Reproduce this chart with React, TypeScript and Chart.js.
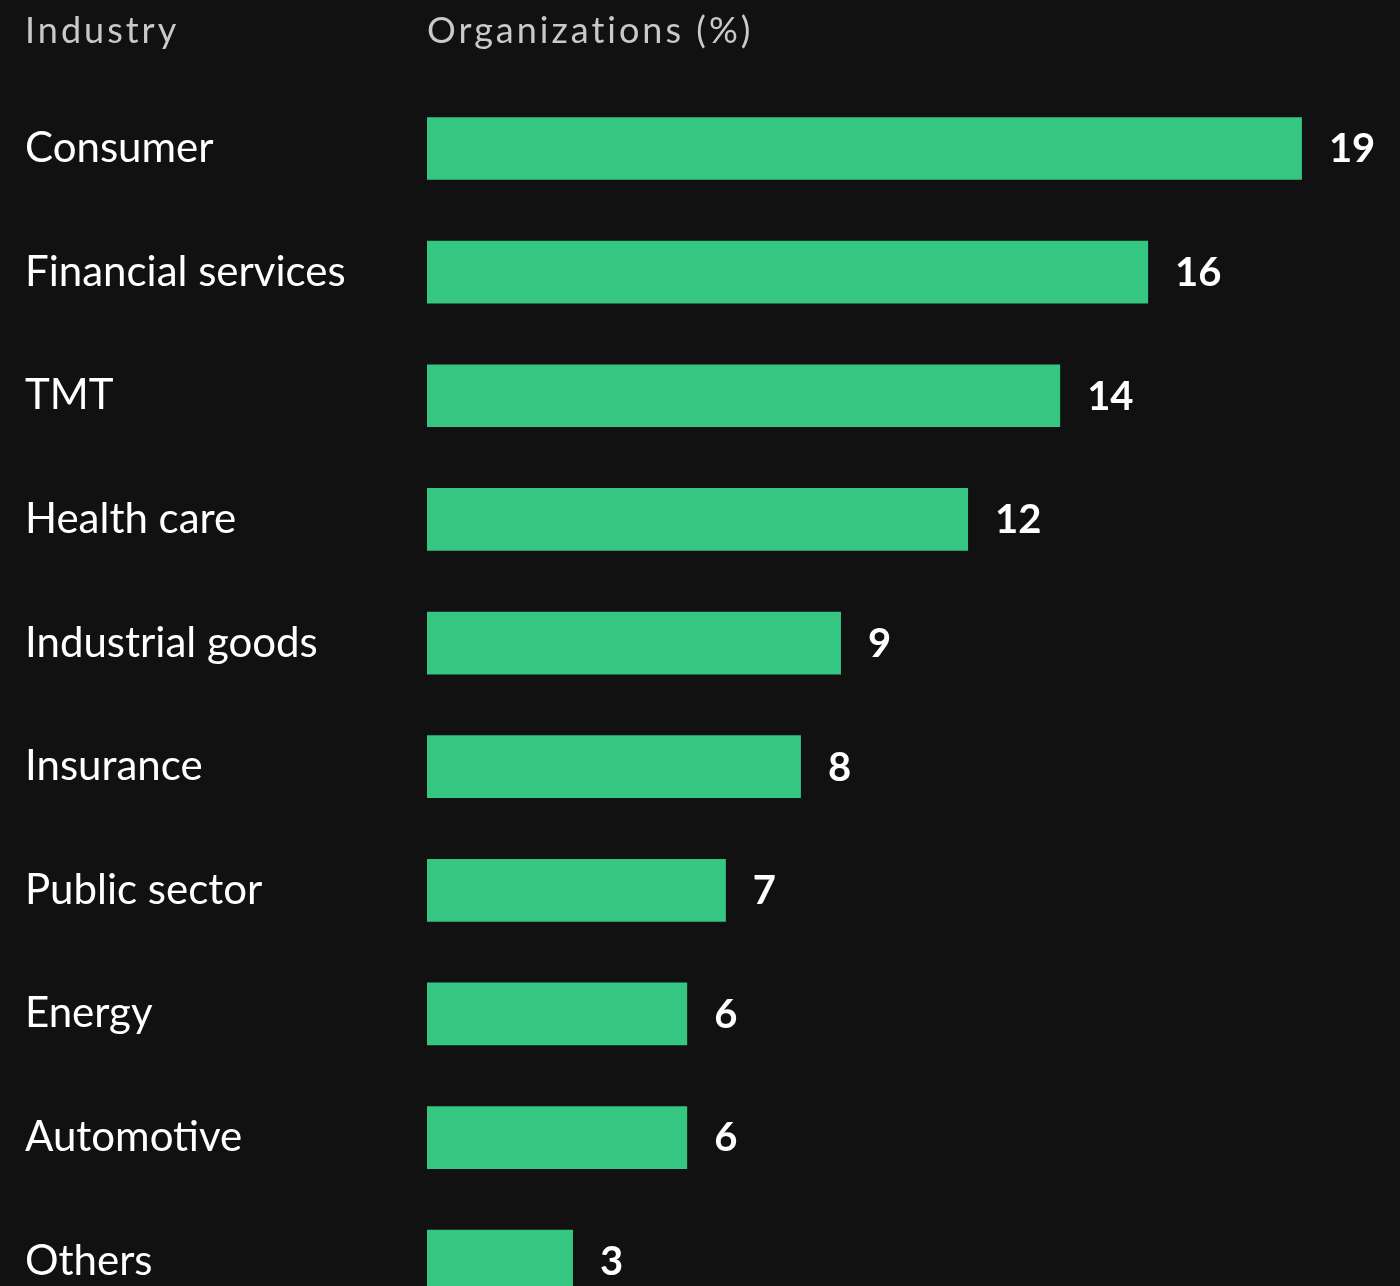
import React, { useEffect, useRef } from "react";
import { Chart, registerables } from "chart.js";

Chart.register(...registerables);

const categories = [
  "Consumer",
  "Financial services",
  "TMT",
  "Health care",
  "Industrial goods",
  "Insurance",
  "Public sector",
  "Energy",
  "Automotive",
  "Others",
];
const barValues = [19, 15.66, 13.75, 11.75, 8.99, 8.12, 6.49, 5.65, 5.65, 3.17];
const valueLabels = ["19", "16", "14", "12", "9", "8", "7", "6", "6", "3"];
const headerLeft = "Industry";
const headerRight = "Organizations (%)";

const BG = "#111111";
const BAR = "#35C682";
const FONT = "Lato, 'Noto Sans', sans-serif";

export default function App() {
  const ref = useRef<HTMLCanvasElement | null>(null);

  useEffect(() => {
    if (!ref.current) return;
    const headerPlugin = {
      id: "headers",
      afterDraw(chart: any) {
        const ctx = chart.ctx;
        ctx.save();
        ctx.fillStyle = "#c9c9c9";
        ctx.font = `36px ${FONT}`;
        (ctx as any).letterSpacing = "3px";
        ctx.textAlign = "left";
        ctx.textBaseline = "alphabetic";
        ctx.fillText(headerLeft, 25, 43);
        ctx.fillText(headerRight, chart.chartArea.left, 43);
        (ctx as any).letterSpacing = "0px";
        ctx.restore();
      },
    };
    const valuePlugin = {
      id: "values",
      afterDatasetsDraw(chart: any) {
        const ctx = chart.ctx;
        const meta = chart.getDatasetMeta(0);
        ctx.save();
        ctx.fillStyle = "#ffffff";
        ctx.font = `bold 40px ${FONT}`;
        ctx.textAlign = "left";
        ctx.textBaseline = "middle";
        meta.data.forEach((bar: any, i: number) => {
          ctx.fillText(valueLabels[i], bar.x + 27, bar.y + 1);
        });
        ctx.restore();
      },
    };
    const chart = new Chart(ref.current, {
      type: "bar",
      data: {
        labels: categories,
        datasets: [
          {
            data: barValues,
            backgroundColor: BAR,
            borderWidth: 0,
            categoryPercentage: 1,
            barPercentage: 0.507,
          },
        ],
      },
      options: {
        indexAxis: "y",
        animation: false,
        responsive: false,
        maintainAspectRatio: false,
        layout: { padding: { left: 25, top: 86.7, right: 0, bottom: 30 } },
        plugins: {
          legend: { display: false },
          tooltip: { enabled: false },
        },
        scales: {
          x: {
            display: false,
            min: 0,
            max: 21.13,
          },
          y: {
            grid: { display: false },
            border: { display: false },
            ticks: {
              color: "#ffffff",
              font: { family: FONT, size: 42 },
              crossAlign: "far",
              padding: 0,
            },
            afterFit(scale: any) {
              scale.width = 402;
            },
          },
        },
      },
      plugins: [headerPlugin, valuePlugin],
    } as any);
    return () => chart.destroy();
  }, []);

  return (
    <div
      style={{
        position: "fixed",
        left: 0,
        top: 0,
        width: 1400,
        height: 1286,
        overflow: "hidden",
        background: BG,
      }}
    >
      <canvas ref={ref} width={1400} height={1353} style={{ display: "block" }} />
    </div>
  );
}
